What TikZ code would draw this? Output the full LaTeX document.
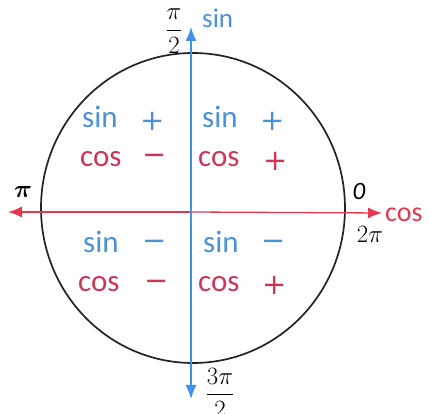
\documentclass[tikz,border=0pt]{standalone}
\usepackage{amsmath}
\usepackage{fontspec}
\setmainfont{Carlito}
\newfontfamily\signfont{DejaVu Sans}
\usetikzlibrary{arrows.meta}
\definecolor{sinblue}{RGB}{75,145,215}
\definecolor{cosred}{RGB}{205,55,85}
\definecolor{axblue}{RGB}{65,145,235}
\definecolor{axred}{RGB}{230,55,80}
\definecolor{ring}{RGB}{35,35,35}
\tikzset{
  lbl/.style={inner sep=0pt,font=\fontsize{31}{34}\selectfont},
  sinw/.style={lbl,text=sinblue,anchor=base west},
  cosw/.style={lbl,text=cosred,anchor=base west},
  sgn/.style={inner sep=0pt,anchor=center,font=\signfont\fontsize{29}{32}\selectfont},
  sgnb/.style={sgn,text=sinblue},
  sgnr/.style={sgn,text=cosred},
  ang/.style={inner sep=0pt,font=\fontsize{23}{25}\selectfont},
  axtip/.style={-{Latex[length=14pt,width=11pt]}},
  axis line/.style={line width=1.3pt},
}
\begin{document}
\begin{tikzpicture}[x=1pt,y=-1pt]
\useasboundingbox (0,0) rectangle (429,414);
\clip (0,0) rectangle (429,414);
% circle
\draw[ring,line width=1.7pt] (193,208) ellipse [x radius=152, y radius=155];
% axes
\coordinate (L) at (8,212);
\coordinate (R) at (382,213);
\coordinate (T) at (191,27);
\coordinate (B) at (191,399);
\coordinate (O) at (191,212);
\draw[axred,axis line,axtip] (O) -- (L);
\draw[axred,axis line,axtip] (O) -- (R);
\draw[axblue,axis line,axtip] (O) -- (T);
\draw[axblue,axis line,axtip] (O) -- (B);
% axis labels
\node[inner sep=0pt,text=sinblue,anchor=base west,font=\fontsize{27}{29}\selectfont] (sinax) at (202,28) {sin};
\node[inner sep=0pt,text=axred,anchor=base west,font=\fontsize{28}{30}\selectfont] (cosax) at (385,222) {cos};
\node[ang,font=\fontsize{29}{31}\selectfont] (pi) at (23,192) {$\boldsymbol{\pi}$};
\node[ang,font=\fontsize{25}{27}\selectfont] (zero) at (359,191) {$\mathit{0}$};
\node[ang,font=\fontsize{25}{27}\selectfont] (twopi) at (370,234) {$2\pi$};
\node[ang] (half) at (174,31) {$\dfrac{\pi}{2}$};
\node[ang] (threehalf) at (220,393) {$\dfrac{3\pi}{2}$};
% quadrant I
\node[sinw] (s1) at (202,128) {sin};
\node[sgnb] (s1s) at (273,121) {+};
\node[cosw] (c1) at (198,167) {cos};
\node[sgnr] (c1s) at (276,161) {+};
% quadrant II
\node[sinw] (s2) at (82,128) {sin};
\node[sgnb] (s2s) at (153,121) {+};
\node[cosw] (c2) at (80,167) {cos};
\node[sgnr] (c2s) at (155,159) {−};
% quadrant III
\node[sinw] (s3) at (83,253) {sin};
\node[sgnb] (s3s) at (155,245) {−};
\node[cosw] (c3) at (78,292) {cos};
\node[sgnr] (c3s) at (157,285) {−};
% quadrant IV
\node[sinw] (s4) at (203,253) {sin};
\node[sgnb] (s4s) at (274,245) {−};
\node[cosw] (c4) at (198,292) {cos};
\node[sgnr] (c4s) at (275,285) {+};
\end{tikzpicture}
\end{document}
